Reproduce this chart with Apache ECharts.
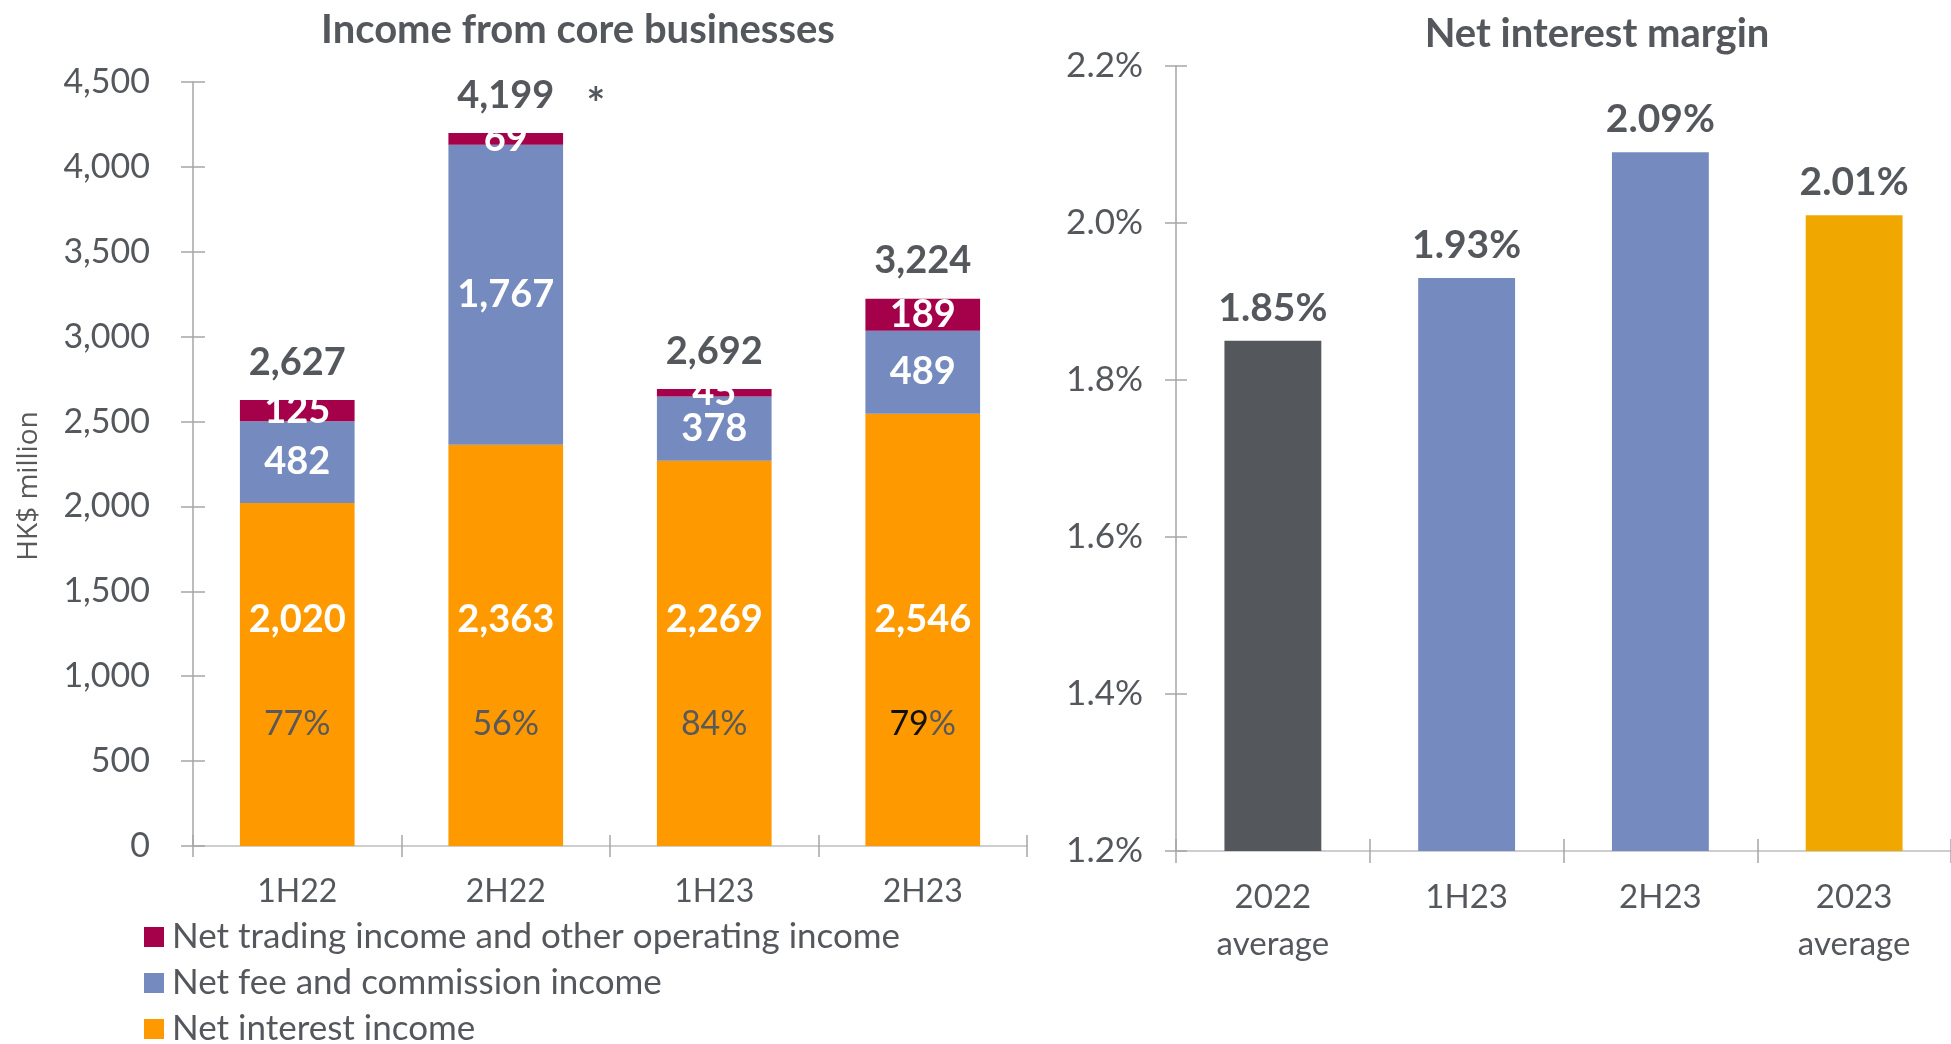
<!DOCTYPE html>
<html>
<head>
<meta charset="utf-8">
<title>Income from core businesses / Net interest margin</title>
<script src="https://cdn.jsdelivr.net/npm/echarts@6/dist/echarts.min.js"></script>
<style>
    html, body { margin: 0; padding: 0; background: #fff; }
    #chart { width: 1951px; height: 1044px; }
</style>
</head>
<body>
<div id="chart"></div>
<script>
// left panel: income from core businesses (HK$ million)
const periods = ['1H22', '2H22', '1H23', '2H23'];
const netInterestIncome = [2020, 2363, 2269, 2546];
const netFeeIncome = [482, 1767, 378, 489];
const netTradingIncome = [125, 69, 45, 189];
const totalIncome = [2627, 4199, 2692, 3224];
const niiShare = [77, 56, 84, 79];
const totalNotes = ['', '*', '', ''];

// right panel: net interest margin (%)
const nimCategories = ['2022\naverage', '1H23', '2H23', '2023\naverage'];
const nimValues = [1.85, 1.93, 2.09, 2.01];

const FONT = 'Lato, "Liberation Sans", sans-serif';
const TEXT = '#54575C';
const AXIS_GREY = '#A6A6A6';
const nimBarColors = ['#54575C', '#758BBF', '#758BBF', '#F0A800'];

const fmtNum = v => Number(v).toLocaleString('en-US');

function axisPair(base, twin) {
    // Excel style ticks cross the axis line: draw outside ticks on one axis, inside on a twin
    return [base, Object.assign({}, base, {
        name: '',
        axisLine: { show: false },
        axisLabel: { show: false },
        axisTick: { show: true, inside: true, length: base.axisTick.length, lineStyle: base.axisTick.lineStyle }
    }, twin)];
}

function initChart() {
    const chart = echarts.init(document.getElementById('chart'));
    const tickStyle = { color: AXIS_GREY, width: 1.5 };

    const xLeft = axisPair({
        type: 'category', gridIndex: 0, data: periods, position: 'bottom',
        axisLine: { lineStyle: { color: '#BFBFBF', width: 1.5 } },
        axisTick: { show: true, length: 11, lineStyle: tickStyle },
        axisLabel: { margin: 30, fontSize: 32, color: TEXT, fontFamily: FONT }
    });
    const xRight = axisPair({
        type: 'category', gridIndex: 1, data: nimCategories, position: 'bottom',
        axisLine: { lineStyle: { color: '#BFBFBF', width: 1.5 } },
        axisTick: { show: true, length: 12, lineStyle: tickStyle },
        axisLabel: { margin: 23, fontSize: 33, lineHeight: 47, color: TEXT, fontFamily: FONT }
    });
    const yLeft = axisPair({
        type: 'value', gridIndex: 0, position: 'left', min: 0, max: 4500, interval: 500,
        name: 'HK$ million', nameLocation: 'middle', nameRotate: 90, nameGap: 150,
        nameTextStyle: { fontSize: 28, color: '#595959', fontFamily: '"Open Sans", sans-serif', padding: [0, 44, 0, 0] },
        axisLine: { show: true, lineStyle: { color: AXIS_GREY, width: 1.5 } },
        axisTick: { show: true, length: 12, lineStyle: tickStyle },
        splitLine: { show: false },
        axisLabel: { margin: 43, fontSize: 34, color: TEXT, fontFamily: FONT, formatter: fmtNum }
    });
    const yRight = axisPair({
        type: 'value', gridIndex: 1, position: 'left', min: 1.2, max: 2.2, interval: 0.2,
        axisLine: { show: true, lineStyle: { color: AXIS_GREY, width: 1.5 } },
        axisTick: { show: true, length: 11, lineStyle: tickStyle },
        splitLine: { show: false },
        axisLabel: { margin: 33, fontSize: 35, color: TEXT, fontFamily: FONT, formatter: v => v.toFixed(1) + '%' }
    });

    const segLabel = {
        show: true, position: 'inside', color: '#fff', fontSize: 38, fontWeight: 'bold',
        fontFamily: FONT, formatter: p => fmtNum(p.value)
    };

    const option = {
        animation: false,
        textStyle: { fontFamily: FONT },
        title: [
            {
                text: 'Income from core businesses', left: 573, top: 5, textAlign: 'center',
                textStyle: { fontSize: 40, fontWeight: 'bold', color: TEXT, fontFamily: FONT }
            },
            {
                text: 'Net interest margin', left: 1592, top: 9, textAlign: 'center',
                textStyle: { fontSize: 40, fontWeight: 'bold', color: TEXT, fontFamily: FONT }
            }
        ],
        legend: {
            orient: 'vertical', left: 139, top: 914, height: 200,
            itemWidth: 20, itemHeight: 20, itemGap: 10, icon: 'rect',
            data: ['Net trading income and other operating income', 'Net fee and commission income', 'Net interest income'],
            textStyle: { fontSize: 35, lineHeight: 36, color: TEXT, fontFamily: FONT, padding: [0, 0, 0, 3] }
        },
        grid: [
            { left: 193, right: 924, top: 82, bottom: 198 },
            { left: 1176, right: 0, top: 66, bottom: 193 }
        ],
        xAxis: xLeft.concat(xRight),
        yAxis: yLeft.concat(yRight),
        series: [
            {
                name: 'Net interest income', type: 'bar', stack: 'income',
                xAxisIndex: 0, yAxisIndex: 0, barWidth: '55%',
                data: netInterestIncome,
                itemStyle: { color: '#FF9900' },
                label: {
                    show: true, position: 'insideBottom', distance: 40,
                    formatter: p => {
                        const share = niiShare[p.dataIndex];
                        const pct = p.dataIndex === 3 ? '{k|' + share + '}{p|%}' : '{p|' + share + '%}';
                        return '{v|' + fmtNum(p.value) + '}\n' + pct;
                    },
                    rich: {
                        v: { fontSize: 38, fontWeight: 'bold', color: '#fff', lineHeight: 44, fontFamily: FONT },
                        p: { fontSize: 34, color: '#595959', lineHeight: 164, fontFamily: FONT },
                        k: { fontSize: 34, color: '#111', lineHeight: 164, fontFamily: FONT }
                    }
                }
            },
            {
                name: 'Net fee and commission income', type: 'bar', stack: 'income',
                xAxisIndex: 0, yAxisIndex: 0,
                data: netFeeIncome,
                itemStyle: { color: '#758BBF' },
                label: segLabel
            },
            {
                name: 'Net trading income and other operating income', type: 'bar', stack: 'income',
                xAxisIndex: 0, yAxisIndex: 0,
                data: netTradingIncome,
                itemStyle: { color: '#A5004A' },
                label: segLabel
            },
            {
                name: 'Total', type: 'scatter', xAxisIndex: 0, yAxisIndex: 0,
                data: totalIncome, symbolSize: 1, silent: true, z: 5,
                itemStyle: { color: 'rgba(0,0,0,0)', opacity: 1 },
                label: {
                    show: true, position: 'top', distance: 18,
                    fontSize: 38, fontWeight: 'bold', color: TEXT, fontFamily: FONT,
                    formatter: p => fmtNum(p.value)
                }
            },
            {
                // footnote marker beside the total
                name: 'Note', type: 'scatter', xAxisIndex: 0, yAxisIndex: 0,
                data: totalIncome, symbolSize: 1, silent: true, z: 5,
                itemStyle: { color: 'rgba(0,0,0,0)', opacity: 1 },
                label: {
                    show: true, position: 'top', distance: 18, offset: [90, 12],
                    fontSize: 44, fontWeight: 'bold', color: TEXT, fontFamily: FONT,
                    formatter: p => totalNotes[p.dataIndex]
                }
            },
            {
                name: 'Net interest margin', type: 'bar',
                xAxisIndex: 2, yAxisIndex: 2, barWidth: '50%',
                data: nimValues,
                itemStyle: { color: p => nimBarColors[p.dataIndex] },
                label: {
                    show: true, position: 'top', distance: 13,
                    fontSize: 39, fontWeight: 'bold', color: TEXT, fontFamily: FONT,
                    formatter: p => p.value.toFixed(2) + '%'
                }
            }
        ]
    };

    chart.setOption(option);
}

document.addEventListener('DOMContentLoaded', initChart);
</script>
</body>
</html>
